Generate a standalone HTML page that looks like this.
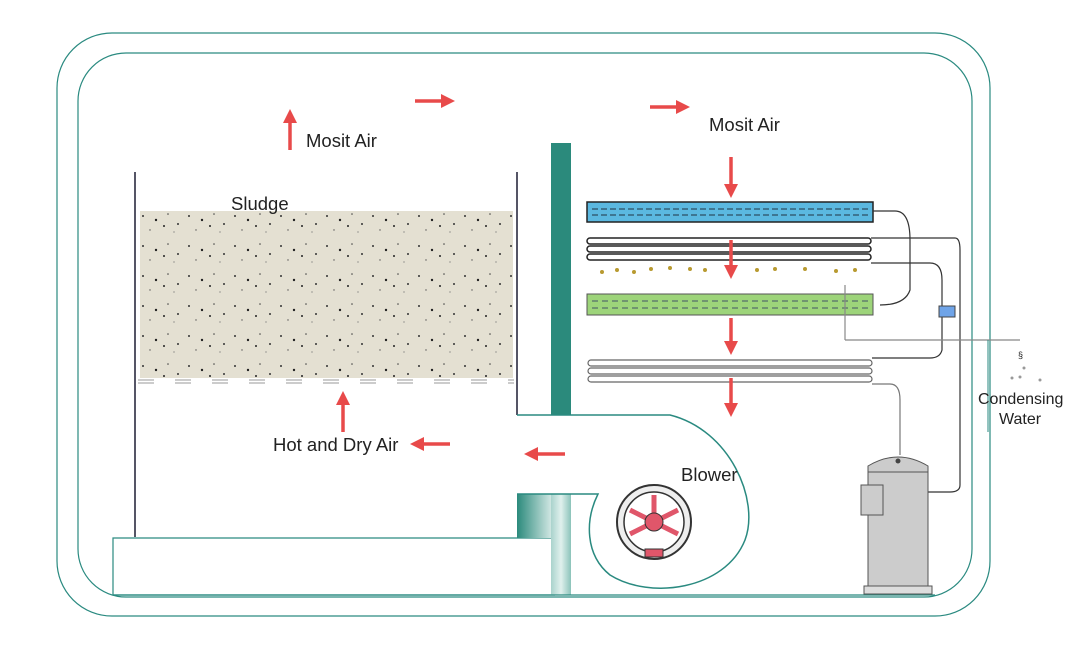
<!DOCTYPE html>
<html><head><style>html,body{margin:0;padding:0;background:#fff}svg{display:block}text{font-family:"Liberation Sans",sans-serif;fill:#222}</style></head>
<body>
<svg width="1076" height="670" viewBox="0 0 1076 670" xmlns="http://www.w3.org/2000/svg">
<defs>
<pattern id="dots" width="46" height="30" patternUnits="userSpaceOnUse">
<circle cx="5" cy="6" r="1" fill="#333"/><circle cx="18" cy="10" r="1.2" fill="#222"/><circle cx="30" cy="4" r="0.8" fill="#444"/><circle cx="40" cy="14" r="1" fill="#333"/><circle cx="12" cy="20" r="0.7" fill="#555"/><circle cx="26" cy="16" r="1" fill="#222"/><circle cx="36" cy="22" r="0.6" fill="#666"/>
</pattern>
<marker id="ah" markerWidth="4" markerHeight="4" refX="2" refY="2" orient="auto"><path d="M0,0 L4,2 L0,4 Z" fill="#e84a4a"/></marker>
<linearGradient id="tg" x1="0" x2="1"><stop offset="0" stop-color="#2b8a7c"/><stop offset="1" stop-color="#cfe6e2"/></linearGradient>
<linearGradient id="lg" x1="0" x2="1"><stop offset="0" stop-color="#a9d3cc"/><stop offset="0.5" stop-color="#e0f0ed"/><stop offset="1" stop-color="#8cc3ba"/></linearGradient>
</defs>
<rect x="57" y="33" width="933" height="583" rx="55" fill="none" stroke="#2a8a80" stroke-width="1.2"/>
<rect x="78" y="53" width="894" height="544" rx="48" fill="none" stroke="#2a8a80" stroke-width="1.2"/>
<rect x="140" y="211" width="373" height="167" fill="#e4e0d2"/>
<rect x="140" y="211" width="373" height="167" fill="url(#dots)"/>
<line x1="135" y1="172" x2="135" y2="537" stroke="#556" stroke-width="2"/>
<line x1="517" y1="172" x2="517" y2="415" stroke="#556" stroke-width="2"/>
<line x1="138" y1="380" x2="514" y2="380" stroke="#999" stroke-width="1" stroke-dasharray="16,21"/>
<line x1="138" y1="383" x2="514" y2="383" stroke="#999" stroke-width="1" stroke-dasharray="16,21"/>
<text x="231" y="210" font-size="18.5">Sludge</text>
<path d="M555,538 L113,538 L113,595 L555,595" fill="none" stroke="#2a8a80" stroke-width="1.2"/>
<rect x="551" y="143" width="20" height="272" fill="#2b8a7c"/>
<rect x="517" y="494" width="34" height="44" fill="url(#tg)"/>
<rect x="551" y="494" width="20" height="101" fill="url(#lg)"/>
<path d="M517,415 L670,415 C730,430 760,500 745,540 C725,590 650,600 610,575 C585,555 585,520 598,494 L517,494" fill="none" stroke="#2a8a80" stroke-width="1.5"/>
<line x1="113" y1="595" x2="935" y2="595" stroke="#2a8a80" stroke-width="1.2"/>
<circle cx="654" cy="522" r="37" fill="#eee" stroke="#333" stroke-width="2"/>
<circle cx="654" cy="522" r="30" fill="#fff" stroke="#333" stroke-width="1.5"/>
<g stroke="#e0566a" stroke-width="5"><line x1="654" y1="522" x2="654" y2="495"/><line x1="654" y1="522" x2="630" y2="510"/><line x1="654" y1="522" x2="678" y2="510"/><line x1="654" y1="522" x2="630" y2="534"/><line x1="654" y1="522" x2="678" y2="534"/></g>
<circle cx="654" cy="522" r="9" fill="#e0566a" stroke="#333"/>
<rect x="645" y="549" width="18" height="8" fill="#e0566a" stroke="#333"/>
<text x="681" y="481" font-size="18.5">Blower</text>
<rect x="587" y="202" width="286" height="20" fill="#5bb8e0" stroke="#222" stroke-width="1.5"/>
<line x1="592" y1="209" x2="868" y2="209" stroke="#234" stroke-dasharray="6,3"/><line x1="592" y1="215" x2="868" y2="215" stroke="#234" stroke-dasharray="6,3"/>
<rect x="587" y="294" width="286" height="21" fill="#9dd47a" stroke="#555" stroke-width="1"/>
<line x1="592" y1="301" x2="868" y2="301" stroke="#456" stroke-dasharray="6,4"/><line x1="592" y1="308" x2="868" y2="308" stroke="#456" stroke-dasharray="6,4"/>
<g fill="none" stroke="#222" stroke-width="1.5">
<rect x="587" y="238" width="284" height="6" rx="3"/><rect x="587" y="246" width="284" height="6" rx="3"/><rect x="587" y="254" width="284" height="6" rx="3"/>
</g>
<g fill="none" stroke="#666" stroke-width="1.2">
<rect x="588" y="360" width="284" height="6" rx="3"/><rect x="588" y="368" width="284" height="6" rx="3"/><rect x="588" y="376" width="284" height="6" rx="3"/>
</g>
<g fill="#b89a30"><circle cx="602" cy="272" r="2"/><circle cx="617" cy="270" r="2"/><circle cx="634" cy="272" r="2"/><circle cx="651" cy="269" r="2"/><circle cx="670" cy="268" r="2"/><circle cx="690" cy="269" r="2"/><circle cx="705" cy="270" r="2"/><circle cx="757" cy="270" r="2"/><circle cx="775" cy="269" r="2"/><circle cx="805" cy="269" r="2"/><circle cx="836" cy="271" r="2"/><circle cx="855" cy="270" r="2"/></g>
<g fill="none" stroke="#333" stroke-width="1.2">
<path d="M873,211 L895,211 Q910,211 910,240 L910,290 Q905,305 880,305"/>
<path d="M871,238 L955,238 Q960,238 960,250 L960,485 Q960,492 950,492 L925,492"/>
<path d="M871,263 L930,263 Q942,263 942,280 L942,350 Q940,358 930,358 L872,358"/>
<path d="M872,384 L890,384 Q900,384 900,400 L900,455" stroke="#777"/>
<line x1="845" y1="285" x2="845" y2="340" stroke="#888"/>
<line x1="845" y1="340" x2="1020" y2="340" stroke="#888"/>
</g>
<line x1="988" y1="340" x2="988" y2="432" stroke="#2a8a80"/>
<rect x="939" y="306" width="16" height="11" fill="#6fa4e8" stroke="#444"/>
<path d="M868,590 L868,466 Q898,448 928,466 L928,590 Z" fill="#ccc" stroke="#555"/>
<line x1="868" y1="472" x2="928" y2="472" stroke="#555"/>
<rect x="861" y="485" width="22" height="30" fill="#ccc" stroke="#555"/>
<rect x="864" y="586" width="68" height="8" fill="#ddd" stroke="#555"/>
<circle cx="898" cy="461" r="2.5" fill="#444"/>
<text x="978" y="404" font-size="16">Condensing</text>
<text x="999" y="424" font-size="16">Water</text>
<text x="1018" y="358" font-size="9" fill="#777">§</text>
<g fill="#999"><circle cx="1024" cy="368" r="1.5"/><circle cx="1012" cy="378" r="1.5"/><circle cx="1020" cy="377" r="1.5"/><circle cx="1040" cy="380" r="1.5"/></g>
<text x="306" y="147" font-size="18.5">Mosit Air</text>
<text x="709" y="131" font-size="18.5">Mosit Air</text>
<text x="273" y="451" font-size="18.5">Hot and Dry Air</text>
<g stroke="#e84a4a" stroke-width="3.5" marker-end="url(#ah)">
<line x1="290" y1="150" x2="290" y2="116"/>
<line x1="415" y1="101" x2="448" y2="101"/>
<line x1="650" y1="107" x2="683" y2="107"/>
<line x1="731" y1="157" x2="731" y2="191"/>
<line x1="731" y1="240" x2="731" y2="272"/>
<line x1="731" y1="318" x2="731" y2="348"/>
<line x1="731" y1="378" x2="731" y2="410"/>
<line x1="343" y1="432" x2="343" y2="398"/>
<line x1="450" y1="444" x2="417" y2="444"/>
<line x1="565" y1="454" x2="531" y2="454"/>
</g>
</svg>
</body></html>
